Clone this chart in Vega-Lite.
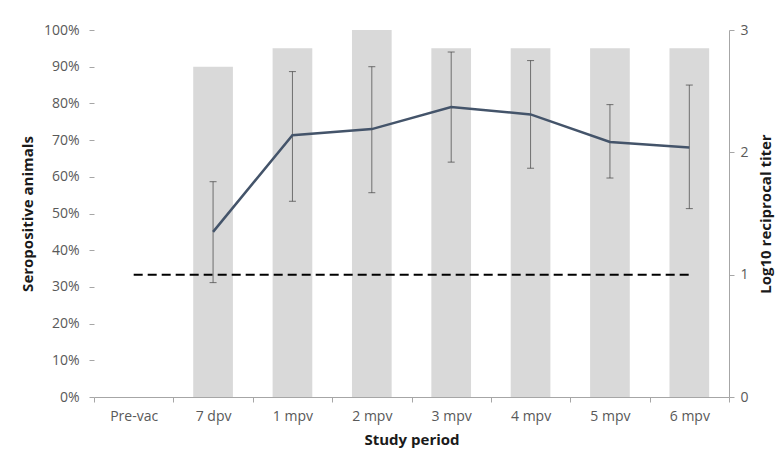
{
  "$schema": "https://vega.github.io/schema/vega-lite/v6.json",
  "width": 635,
  "height": 367,
  "autosize": {"type": "none"},
  "padding": {"left": 94, "top": 30, "right": 53, "bottom": 69},
  "config": {
    "font": "Open Sans",
    "view": {"stroke": null},
    "axis": {
      "labelColor": "#595959",
      "labelFontSize": 14,
      "titleFontSize": 15,
      "titleFontWeight": "bold",
      "titleColor": "#1a1a1a",
      "grid": false,
      "tickColor": "#a6a6a6",
      "domainColor": "#a6a6a6",
      "tickSize": 5
    }
  },
  "data": {
    "values": [
      {"period": "Pre-vac", "sero": 0, "titer": null, "lo": null, "hi": null},
      {"period": "7 dpv", "sero": 0.90, "titer": 1.35, "lo": 0.935, "hi": 1.76},
      {"period": "1 mpv", "sero": 0.95, "titer": 2.14, "lo": 1.60, "hi": 2.66},
      {"period": "2 mpv", "sero": 1.00, "titer": 2.19, "lo": 1.67, "hi": 2.70},
      {"period": "3 mpv", "sero": 0.95, "titer": 2.37, "lo": 1.92, "hi": 2.82},
      {"period": "4 mpv", "sero": 0.95, "titer": 2.31, "lo": 1.87, "hi": 2.75},
      {"period": "5 mpv", "sero": 0.95, "titer": 2.085, "lo": 1.79, "hi": 2.39},
      {"period": "6 mpv", "sero": 0.95, "titer": 2.04, "lo": 1.54, "hi": 2.55}
    ]
  },
  "encoding": {
    "x": {
      "field": "period",
      "type": "nominal",
      "sort": null,
      "title": "Study period",
      "scale": {"paddingInner": 0, "paddingOuter": 0},
      "axis": {"labelAngle": 0, "tickBand": "extent", "labelPadding": 7, "titlePadding": 9}
    }
  },
  "layer": [
    {
      "mark": {"type": "bar", "color": "#d9d9d9", "width": {"band": 0.5}},
      "encoding": {
        "y": {
          "field": "sero",
          "type": "quantitative",
          "title": "Seropositive animals",
          "scale": {"domain": [0, 1]},
          "axis": {
            "orient": "left",
            "format": ".0%",
            "values": [0, 0.1, 0.2, 0.3, 0.4, 0.5, 0.6, 0.7, 0.8, 0.9, 1],
            "domain": false,
            "labelPadding": 10,
            "titlePadding": 8
          }
        }
      }
    },
    {
      "layer": [
        {
          "mark": {"type": "line", "color": "#000000", "strokeDash": [9, 5], "strokeWidth": 2},
          "encoding": {
            "y": {
              "datum": 1,
              "type": "quantitative",
              "title": "Log10 reciprocal titer",
              "scale": {"domain": [0, 3]},
              "axis": {"orient": "right", "values": [0, 1, 2, 3], "titleAngle": 270, "titleBaseline": "top", "labelPadding": 6, "titlePadding": 10}
            }
          }
        },
        {
          "mark": {"type": "rule", "color": "#6f6f6f", "strokeWidth": 1},
          "encoding": {
            "y": {
              "field": "lo",
              "type": "quantitative",
              "title": "Log10 reciprocal titer",
              "scale": {"domain": [0, 3]},
              "axis": {"orient": "right", "values": [0, 1, 2, 3], "titleAngle": 270, "titleBaseline": "top", "labelPadding": 6, "titlePadding": 10}
            },
            "y2": {"field": "hi"}
          }
        },
        {
          "mark": {"type": "tick", "color": "#404040", "size": 7, "thickness": 1},
          "encoding": {
            "y": {
              "field": "lo",
              "type": "quantitative",
              "title": "Log10 reciprocal titer",
              "scale": {"domain": [0, 3]},
              "axis": {"orient": "right", "values": [0, 1, 2, 3], "titleAngle": 270, "titleBaseline": "top", "labelPadding": 6, "titlePadding": 10}
            }
          }
        },
        {
          "mark": {"type": "tick", "color": "#404040", "size": 7, "thickness": 1},
          "encoding": {
            "y": {
              "field": "hi",
              "type": "quantitative",
              "title": "Log10 reciprocal titer",
              "scale": {"domain": [0, 3]},
              "axis": {"orient": "right", "values": [0, 1, 2, 3], "titleAngle": 270, "titleBaseline": "top", "labelPadding": 6, "titlePadding": 10}
            }
          }
        },
        {
          "mark": {"type": "line", "color": "#44546a", "strokeWidth": 2.5},
          "encoding": {
            "y": {
              "field": "titer",
              "type": "quantitative",
              "title": "Log10 reciprocal titer",
              "scale": {"domain": [0, 3]},
              "axis": {"orient": "right", "values": [0, 1, 2, 3], "titleAngle": 270, "titleBaseline": "top", "labelPadding": 6, "titlePadding": 10}
            }
          }
        }
      ]
    }
  ],
  "resolve": {"scale": {"y": "independent"}}
}
